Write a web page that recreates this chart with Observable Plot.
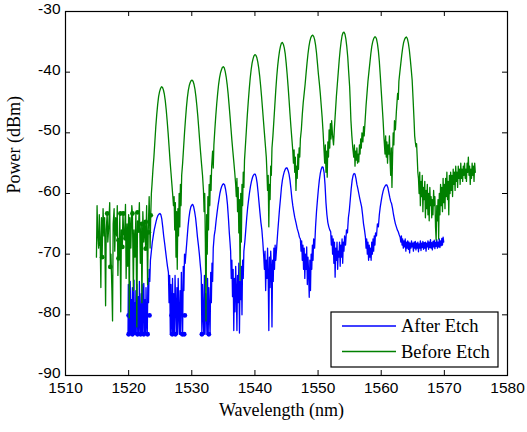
<!DOCTYPE html>
<html><head><meta charset="utf-8">
<script src="https://cdn.jsdelivr.net/npm/d3@7"></script>
<script src="https://cdn.jsdelivr.net/npm/@observablehq/plot@0.6"></script>
<style>body{margin:0;background:#fff}</style>
</head><body><div id="chart"></div>
<script>
const xTicks = [1510,1520,1530,1540,1550,1560,1570,1580];
const yTicks = [-90,-80,-70,-60,-50,-40,-30];
const seriesNames = ["After Etch","Before Etch"];
const seriesColors = ["#0000ff","#008000"];
const xLabel = "Wavelength (nm)";
const yLabel = "Power (dBm)";

// After Etch: [wavelength nm, power dBm]
const afterEtch = [
[1519.9,-83.2],[1519.95,-75.0],[1520.0,-80.3],[1520.05,-83.2],[1520.1,-76.5],[1520.2,-83.2],[1520.25,-74.5],[1520.3,-79.0],[1520.35,-83.2],[1520.45,-77.5],[1520.5,-83.2],[1520.6,-75.5],[1520.7,-83.2],[1520.75,-80.3],[1520.85,-74.3],[1520.9,-83.2],[1521.0,-78.0],[1521.05,-83.2],[1521.15,-76.0],[1521.2,-83.2],[1521.3,-75.0],[1521.4,-81.0],[1521.45,-83.2],[1521.55,-77.0],[1521.65,-83.2],[1521.7,-74.5],[1521.8,-80.3],[1521.9,-83.2],[1522.0,-76.5],[1522.05,-83.2],[1522.15,-75.0],[1522.25,-83.2],[1522.3,-78.5],[1522.4,-74.8],[1522.5,-83.2],[1522.6,-77.5],[1522.7,-83.2],[1522.75,-75.5],[1522.85,-80.3],[1522.95,-83.2],[1523.05,-74.0],[1523.15,-78.0],[1523.25,-72.5],[1523.35,-74.5],
[1523.45,-71.0],[1523.6,-69.5],[1523.75,-68.0],[1523.9,-67.0],[1524.05,-66.0],[1524.2,-65.3],[1524.35,-64.6],[1524.5,-64.0],[1524.65,-63.6],[1524.8,-63.4],[1524.95,-63.3],[1525.1,-63.5],[1525.25,-64.2],[1525.4,-65.5],[1525.55,-67.0],[1525.7,-68.2],[1525.85,-69.5],[1526.0,-70.8],[1526.15,-72.0],[1526.3,-73.0],
[1526.4,-78.0],[1526.5,-73.5],[1526.6,-83.2],[1526.7,-75.0],[1526.75,-80.1],[1526.85,-83.2],[1526.95,-74.0],[1527.05,-83.2],[1527.15,-76.5],[1527.25,-83.2],[1527.35,-73.5],[1527.45,-79.0],[1527.55,-83.2],[1527.65,-75.5],[1527.75,-83.2],[1527.85,-74.0],[1527.95,-80.1],[1528.05,-83.2],[1528.15,-76.0],[1528.25,-83.2],[1528.35,-73.0],[1528.45,-78.5],[1528.55,-83.2],[1528.65,-72.0],[1528.75,-76.0],[1528.85,-70.0],
[1528.95,-71.5],[1529.1,-69.5],[1529.25,-67.5],[1529.4,-65.5],[1529.55,-64.0],[1529.7,-62.9],[1529.85,-62.2],[1530.0,-61.9],[1530.15,-61.8],[1530.3,-62.2],[1530.45,-63.0],[1530.6,-64.0],[1530.75,-65.5],[1530.9,-67.2],[1531.05,-68.5],[1531.2,-70.0],[1531.35,-71.8],[1531.5,-73.5],
[1531.6,-83.2],[1531.7,-75.0],[1531.8,-80.1],[1531.9,-83.2],[1532.0,-73.5],[1532.1,-83.2],[1532.2,-76.5],[1532.3,-79.0],[1532.4,-83.2],[1532.5,-74.0],[1532.6,-83.2],[1532.7,-75.5],[1532.8,-80.1],[1532.9,-83.2],[1533.0,-73.0],[1533.1,-78.0],[1533.2,-71.5],[1533.3,-74.5],[1533.4,-69.0],
[1533.55,-67.0],[1533.7,-66.0],[1533.85,-64.5],[1534.0,-63.2],[1534.15,-62.0],[1534.3,-61.0],[1534.45,-60.0],[1534.6,-59.3],[1534.75,-58.8],[1534.9,-58.5],[1535.05,-58.4],[1535.2,-58.6],[1535.35,-59.3],[1535.5,-60.3],[1535.65,-61.8],[1535.8,-64.0],[1535.95,-66.6],[1536.05,-68.0],[1536.15,-69.5],
[1536.25,-74.0],[1536.35,-71.0],[1536.45,-77.0],[1536.55,-72.5],[1536.65,-82.6],[1536.75,-74.0],[1536.85,-79.5],[1536.95,-72.0],[1537.05,-76.0],[1537.15,-82.6],[1537.25,-73.5],[1537.35,-78.0],[1537.45,-71.5],[1537.55,-83.0],[1537.65,-74.5],[1537.75,-77.5],[1537.85,-72.0],[1537.95,-80.0],[1538.05,-71.0],[1538.15,-74.0],[1538.25,-69.5],
[1538.4,-68.0],[1538.55,-66.0],[1538.7,-64.0],[1538.85,-62.3],[1539.0,-61.0],[1539.15,-59.8],[1539.3,-58.8],[1539.45,-58.0],[1539.6,-57.4],[1539.75,-57.0],[1539.9,-56.8],[1540.05,-56.8],[1540.2,-57.3],[1540.35,-58.3],[1540.5,-59.8],[1540.65,-61.5],[1540.8,-63.2],[1540.95,-64.8],[1541.1,-66.0],[1541.25,-68.0],[1541.4,-70.5],
[1541.5,-72.5],[1541.6,-69.5],[1541.7,-76.0],[1541.8,-71.0],[1541.9,-74.0],[1542.0,-69.0],[1542.1,-73.5],[1542.2,-82.6],[1542.3,-70.5],[1542.4,-75.5],[1542.5,-69.5],[1542.6,-72.0],[1542.7,-82.0],[1542.8,-71.0],[1542.9,-74.5],[1543.0,-69.0],[1543.1,-72.5],[1543.2,-68.5],[1543.3,-71.0],[1543.45,-68.8],
[1543.6,-66.5],[1543.75,-64.5],[1543.9,-62.5],[1544.05,-60.8],[1544.2,-59.0],[1544.35,-57.8],[1544.5,-57.0],[1544.65,-56.4],[1544.8,-56.0],[1544.95,-55.8],[1545.1,-55.8],[1545.25,-56.2],[1545.4,-56.8],[1545.55,-57.8],[1545.7,-59.2],[1545.85,-60.8],[1546.0,-62.0],[1546.15,-63.0],[1546.3,-63.9],[1546.5,-64.8],[1546.7,-65.8],[1546.9,-66.5],[1547.05,-67.2],[1547.2,-67.5],
[1547.3,-69.5],[1547.4,-67.8],[1547.5,-71.0],[1547.6,-68.5],[1547.7,-72.5],[1547.8,-69.0],[1547.9,-74.0],[1548.0,-70.0],[1548.1,-72.5],[1548.2,-68.8],[1548.3,-75.0],[1548.4,-70.5],[1548.5,-73.0],[1548.6,-77.1],[1548.7,-71.0],[1548.8,-76.0],[1548.9,-70.0],[1549.0,-72.5],[1549.1,-68.5],[1549.2,-71.0],[1549.3,-67.5],[1549.45,-69.0],[1549.6,-65.5],
[1549.75,-63.0],[1549.9,-61.1],[1550.05,-59.3],[1550.2,-57.8],[1550.35,-56.7],[1550.5,-56.0],[1550.65,-55.6],[1550.8,-55.7],[1550.95,-56.5],[1551.1,-58.5],[1551.25,-61.5],[1551.4,-63.5],[1551.55,-64.8],[1551.7,-65.5],[1551.85,-66.0],[1552.0,-66.3],
[1552.1,-68.5],[1552.2,-67.0],[1552.3,-70.0],[1552.4,-67.5],[1552.5,-71.5],[1552.6,-68.0],[1552.7,-73.8],[1552.8,-69.0],[1552.9,-71.0],[1553.0,-68.0],[1553.1,-72.5],[1553.2,-69.5],[1553.3,-70.5],[1553.4,-68.0],[1553.5,-72.0],[1553.6,-68.5],[1553.7,-70.5],[1553.8,-67.5],[1553.9,-71.5],[1554.0,-68.0],[1554.1,-69.5],[1554.2,-67.0],[1554.35,-68.5],[1554.5,-66.0],[1554.65,-66.5],[1554.8,-64.0],
[1554.95,-62.8],[1555.1,-61.0],[1555.25,-59.2],[1555.4,-57.8],[1555.55,-57.0],[1555.7,-56.7],[1555.85,-56.8],[1556.0,-57.5],[1556.15,-58.5],[1556.3,-59.2],[1556.45,-60.0],[1556.6,-60.8],[1556.75,-61.5],[1556.9,-62.2],[1557.05,-63.5],[1557.2,-65.0],[1557.35,-66.0],
[1557.5,-67.2],[1557.6,-69.0],[1557.7,-67.5],[1557.8,-70.0],[1557.9,-68.0],[1558.0,-71.0],[1558.1,-68.5],[1558.2,-70.5],[1558.3,-69.0],[1558.4,-71.0],[1558.5,-68.0],[1558.6,-70.0],[1558.7,-67.5],[1558.8,-69.5],[1558.9,-67.0],[1559.0,-68.5],[1559.1,-66.5],[1559.25,-67.0],[1559.4,-65.0],
[1559.55,-65.5],[1559.7,-63.5],[1559.85,-62.2],[1560.0,-61.2],[1560.15,-60.3],[1560.3,-59.6],[1560.45,-59.1],[1560.6,-58.8],[1560.75,-58.6],[1560.9,-58.6],[1561.05,-59.0],[1561.2,-59.8],[1561.35,-60.6],[1561.5,-61.3],[1561.65,-61.7],[1561.8,-62.5],[1561.95,-63.5],[1562.1,-64.3],[1562.25,-65.0],[1562.4,-65.5],[1562.55,-66.0],[1562.7,-66.3],[1562.85,-66.8],[1563.0,-67.2],
[1563.1,-68.0],[1563.2,-67.0],[1563.3,-68.5],[1563.4,-67.5],[1563.5,-69.0],[1563.6,-67.8],[1563.7,-68.8],[1563.8,-67.5],[1563.9,-69.5],[1564.0,-68.0],[1564.1,-69.0],[1564.2,-67.8],[1564.3,-69.2],[1564.4,-68.0],[1564.5,-69.8],[1564.6,-68.2],[1564.7,-69.0],[1564.8,-67.8],[1564.9,-68.8],[1565.0,-68.2],[1565.1,-69.5],[1565.2,-68.0],[1565.3,-69.0],[1565.4,-67.9],[1565.5,-69.3],[1565.6,-68.2],[1565.7,-69.0],[1565.8,-68.0],[1565.9,-69.6],[1566.0,-68.3],[1566.1,-69.0],[1566.2,-67.8],[1566.3,-69.4],[1566.4,-68.2],[1566.5,-68.9],[1566.6,-67.9],[1566.7,-69.2],[1566.8,-68.1],[1566.9,-69.0],[1567.0,-68.0],[1567.1,-69.5],[1567.2,-68.2],[1567.3,-68.8],[1567.4,-67.8],[1567.5,-69.2],[1567.6,-68.0],[1567.7,-68.9],[1567.8,-67.6],[1567.9,-69.0],[1568.0,-68.1],[1568.1,-69.3],[1568.2,-67.9],[1568.3,-68.8],[1568.4,-67.7],[1568.5,-69.1],[1568.6,-68.0],[1568.7,-68.7],[1568.8,-67.6],[1568.9,-69.0],[1569.0,-68.0],[1569.1,-68.8],[1569.2,-67.5],[1569.3,-68.9],[1569.4,-67.8],[1569.5,-68.6],[1569.6,-67.4],[1569.7,-68.5],[1569.8,-67.2],[1569.9,-68.0]
];

// Before Etch: [wavelength nm, power dBm]
const beforeEtch = [
[1514.9,-70.5],[1515.0,-62.0],[1515.1,-66.5],[1515.25,-69.0],[1515.35,-63.5],[1515.5,-68.3],[1515.6,-75.5],[1515.7,-64.0],[1515.8,-70.5],[1515.95,-62.5],[1516.1,-67.0],[1516.2,-64.0],[1516.35,-78.5],[1516.45,-66.0],[1516.6,-63.3],[1516.7,-68.0],[1516.85,-65.5],[1517.0,-61.5],[1517.1,-72.1],[1517.2,-70.0],[1517.35,-76.0],[1517.45,-81.0],[1517.55,-65.0],[1517.7,-62.5],[1517.8,-69.5],[1517.95,-64.0],[1518.1,-67.0],[1518.2,-62.0],[1518.3,-73.5],[1518.4,-67.7],[1518.5,-70.7],[1518.6,-63.3],[1518.75,-79.5],[1518.85,-66.0],[1519.0,-68.8],[1519.1,-63.0],[1519.2,-66.4],[1519.35,-67.4],[1519.5,-61.8],[1519.6,-74.0],[1519.75,-65.0],[1519.85,-72.0],[1520.0,-63.5],[1520.1,-80.5],[1520.2,-64.0],[1520.35,-69.0],[1520.5,-62.0],[1520.6,-63.3],[1520.75,-76.0],[1520.85,-66.0],[1521.0,-70.5],[1521.15,-63.1],[1521.3,-82.0],[1521.4,-64.5],[1521.55,-66.1],[1521.7,-61.5],[1521.85,-71.5],[1522.0,-65.0],[1522.1,-78.0],[1522.25,-63.0],[1522.4,-68.0],[1522.55,-64.7],[1522.7,-69.1],[1522.85,-62.0],[1523.0,-75.0],[1523.1,-66.4],[1523.25,-60.5],[1523.4,-69.0],[1523.5,-63.6],[1523.6,-60.0],
[1523.7,-58.5],[1523.85,-56.0],[1524.0,-54.0],[1524.15,-51.5],[1524.3,-49.0],[1524.45,-47.0],[1524.6,-45.3],[1524.75,-44.0],[1524.9,-43.2],[1525.05,-42.7],[1525.2,-42.4],[1525.35,-42.5],[1525.5,-42.9],[1525.65,-43.6],[1525.8,-44.7],[1525.95,-46.2],[1526.1,-48.0],[1526.25,-50.0],[1526.4,-52.2],[1526.55,-54.5],[1526.7,-56.5],[1526.85,-58.5],[1527.0,-60.5],
[1527.1,-62.0],[1527.2,-60.5],[1527.3,-66.0],[1527.4,-61.5],[1527.5,-70.5],[1527.6,-63.0],[1527.7,-72.5],[1527.8,-62.5],[1527.9,-67.0],[1528.0,-60.0],[1528.1,-65.5],[1528.2,-58.5],[1528.3,-62.0],[1528.4,-57.0],
[1528.55,-55.0],[1528.7,-52.5],[1528.85,-50.0],[1529.0,-47.8],[1529.15,-45.8],[1529.3,-44.2],[1529.45,-43.0],[1529.6,-42.2],[1529.75,-41.7],[1529.9,-41.4],[1530.05,-41.3],[1530.2,-41.5],[1530.35,-42.0],[1530.5,-42.8],[1530.65,-44.0],[1530.8,-45.5],[1530.95,-47.2],[1531.1,-49.2],[1531.25,-51.3],[1531.4,-53.3],[1531.55,-55.2],[1531.7,-57.0],
[1531.85,-59.5],[1531.95,-63.0],[1532.05,-60.0],[1532.15,-68.0],[1532.25,-81.0],[1532.35,-63.5],[1532.45,-70.0],[1532.55,-60.5],[1532.65,-66.0],[1532.75,-58.5],[1532.85,-62.0],[1532.95,-57.0],[1533.05,-59.5],[1533.15,-55.5],
[1533.3,-53.0],[1533.4,-55.8],[1533.5,-52.0],[1533.65,-49.5],[1533.8,-47.2],[1533.95,-45.2],[1534.1,-43.5],[1534.25,-42.0],[1534.4,-40.9],[1534.55,-40.1],[1534.7,-39.6],[1534.85,-39.2],[1535.0,-39.1],[1535.15,-39.3],[1535.3,-39.9],[1535.45,-40.8],[1535.6,-42.0],[1535.75,-43.5],[1535.9,-45.3],[1536.05,-47.2],[1536.2,-49.2],[1536.35,-51.2],[1536.5,-53.0],[1536.65,-54.7],[1536.8,-56.5],[1536.95,-58.5],
[1537.05,-60.5],[1537.15,-57.5],[1537.25,-63.0],[1537.35,-59.0],[1537.45,-66.5],[1537.55,-61.0],[1537.65,-74.3],[1537.75,-60.0],[1537.85,-68.0],[1537.95,-58.5],[1538.05,-62.0],[1538.15,-56.5],[1538.25,-59.0],[1538.35,-54.5],
[1538.5,-52.0],[1538.65,-49.5],[1538.8,-47.0],[1538.95,-44.8],[1539.1,-42.8],[1539.25,-41.0],[1539.4,-39.6],[1539.55,-38.5],[1539.7,-37.8],[1539.85,-37.3],[1540.0,-37.1],[1540.15,-37.2],[1540.3,-37.6],[1540.45,-38.3],[1540.6,-39.3],[1540.75,-40.6],[1540.9,-42.2],[1541.05,-44.0],[1541.2,-46.0],[1541.35,-48.0],[1541.5,-50.0],[1541.65,-52.0],[1541.8,-54.0],
[1541.9,-56.5],[1542.0,-59.5],[1542.1,-57.0],[1542.2,-65.5],[1542.3,-58.5],[1542.4,-61.0],[1542.5,-55.5],[1542.6,-57.0],[1542.7,-52.5],[1542.85,-50.5],
[1543.0,-48.0],[1543.15,-45.5],[1543.3,-43.0],[1543.45,-40.8],[1543.6,-39.0],[1543.75,-37.6],[1543.9,-36.5],[1544.05,-35.7],[1544.2,-35.2],[1544.35,-35.1],[1544.5,-35.4],[1544.65,-36.0],[1544.8,-37.0],[1544.95,-38.5],[1545.1,-40.3],[1545.25,-42.3],[1545.4,-44.5],[1545.55,-46.8],[1545.7,-49.0],[1545.85,-51.0],[1546.0,-53.0],
[1546.1,-55.0],[1546.2,-52.8],[1546.3,-56.5],[1546.4,-54.0],[1546.5,-59.5],[1546.6,-55.5],[1546.7,-57.5],[1546.8,-53.5],[1546.9,-56.0],[1547.0,-52.5],[1547.1,-54.0],[1547.2,-51.0],
[1547.35,-49.5],[1547.5,-47.0],[1547.65,-45.0],[1547.8,-43.5],[1547.95,-42.0],[1548.1,-40.2],[1548.25,-38.5],[1548.4,-37.0],[1548.55,-35.8],[1548.7,-34.9],[1548.85,-34.3],[1549.0,-34.0],[1549.15,-33.9],[1549.3,-34.1],[1549.45,-34.6],[1549.6,-35.5],[1549.75,-36.8],[1549.9,-38.5],[1550.05,-40.3],[1550.2,-41.8],[1550.35,-43.5],[1550.5,-45.5],[1550.65,-47.5],[1550.8,-50.0],[1550.95,-53.0],
[1551.05,-55.0],[1551.15,-52.0],[1551.25,-56.5],[1551.35,-53.0],[1551.45,-57.3],[1551.55,-51.5],[1551.65,-54.0],[1551.75,-49.5],[1551.85,-52.5],[1551.95,-48.5],[1552.05,-51.0],[1552.15,-48.0],[1552.3,-50.5],[1552.45,-52.0],[1552.6,-49.0],
[1552.75,-46.5],[1552.9,-44.0],[1553.05,-42.0],[1553.2,-40.0],[1553.35,-38.0],[1553.5,-36.3],[1553.65,-35.0],[1553.8,-34.0],[1553.95,-33.5],[1554.1,-33.4],[1554.25,-33.7],[1554.4,-34.5],[1554.55,-35.8],[1554.7,-37.5],[1554.85,-40.0],[1555.0,-42.4],[1555.1,-45.0],[1555.2,-47.9],[1555.35,-50.5],[1555.5,-52.5],[1555.65,-54.0],
[1555.75,-52.0],[1555.85,-55.5],[1555.95,-53.0],[1556.05,-54.5],[1556.15,-52.5],[1556.25,-55.0],[1556.35,-53.5],[1556.45,-54.8],[1556.55,-52.0],[1556.65,-53.5],[1556.75,-51.0],[1556.85,-52.5],[1556.95,-50.0],[1557.1,-51.5],[1557.2,-49.0],
[1557.3,-50.5],[1557.45,-48.0],[1557.6,-45.5],[1557.75,-43.5],[1557.9,-41.5],[1558.05,-40.0],[1558.2,-38.5],[1558.35,-37.0],[1558.5,-35.8],[1558.65,-35.0],[1558.8,-34.5],[1558.95,-34.2],[1559.1,-34.2],[1559.25,-34.5],[1559.4,-35.3],[1559.55,-36.5],[1559.7,-38.2],[1559.85,-40.5],[1560.0,-43.0],[1560.15,-45.5],[1560.3,-48.0],[1560.45,-51.0],[1560.6,-53.5],
[1560.7,-50.5],[1560.8,-54.0],[1560.9,-51.5],[1561.0,-55.0],[1561.1,-52.0],[1561.2,-53.5],[1561.3,-50.5],[1561.4,-54.5],[1561.5,-57.0],[1561.6,-52.5],[1561.7,-59.0],[1561.8,-54.0],[1561.9,-50.0],[1562.0,-52.0],[1562.1,-48.0],
[1562.25,-49.5],[1562.4,-46.5],[1562.5,-45.0],[1562.6,-43.5],[1562.7,-44.5],[1562.8,-41.5],[1562.95,-40.0],[1563.1,-38.6],[1563.25,-37.2],[1563.4,-36.0],[1563.55,-35.1],[1563.7,-34.6],[1563.85,-34.3],[1564.0,-34.2],[1564.15,-34.5],[1564.3,-35.2],[1564.45,-36.3],[1564.6,-37.8],[1564.75,-39.5],[1564.9,-41.3],[1565.05,-44.5],[1565.2,-47.9],[1565.3,-50.5],[1565.4,-51.5],[1565.5,-52.3],[1565.6,-51.8],[1565.7,-54.0],[1565.8,-56.5],
[1565.9,-57.5],[1566.0,-60.0],[1566.1,-56.5],[1566.2,-62.0],[1566.3,-58.0],[1566.4,-60.5],[1566.5,-57.0],[1566.6,-63.0],[1566.7,-59.0],[1566.8,-61.0],[1566.9,-58.0],[1567.0,-64.0],[1567.1,-59.5],[1567.2,-62.5],[1567.3,-58.5],[1567.4,-63.5],[1567.5,-60.0],[1567.6,-64.5],[1567.7,-59.0],[1567.8,-62.0],[1567.9,-60.5],[1568.0,-64.0],[1568.1,-61.0],[1568.2,-63.5],[1568.3,-59.5],[1568.4,-62.0],[1568.5,-60.5],[1568.6,-65.5],[1568.7,-67.7],[1568.8,-62.0],[1568.9,-64.5],[1569.0,-61.0],[1569.1,-67.5],[1569.2,-60.0],[1569.3,-63.5],[1569.4,-58.5],[1569.5,-62.0],[1569.6,-59.0],[1569.7,-63.0],[1569.8,-57.5],[1569.9,-61.5],[1570.0,-58.5],[1570.1,-62.5],[1570.2,-57.5],[1570.3,-60.5],[1570.4,-56.5],[1570.5,-61.0],[1570.6,-58.0],[1570.7,-63.5],[1570.8,-57.0],[1570.9,-60.0],[1571.0,-56.5],[1571.1,-59.5],[1571.2,-57.0],[1571.3,-60.5],[1571.4,-56.0],[1571.5,-58.5],[1571.6,-56.5],[1571.7,-59.5],[1571.8,-55.5],[1571.9,-58.0],[1572.0,-56.5],[1572.1,-59.0],[1572.2,-55.5],[1572.3,-57.5],[1572.4,-56.0],[1572.5,-58.5],[1572.6,-55.0],[1572.7,-57.5],[1572.8,-56.0],[1572.9,-58.0],[1573.0,-55.5],[1573.1,-57.0],[1573.2,-55.0],[1573.3,-57.5],[1573.4,-56.0],[1573.5,-58.0],[1573.6,-55.0],[1573.7,-56.5],[1573.8,-54.0],[1573.9,-57.0],[1574.0,-55.5],[1574.1,-58.5],[1574.2,-56.0],[1574.3,-57.5],[1574.4,-55.0],[1574.5,-57.0],[1574.6,-55.5],[1574.7,-58.0],[1574.8,-55.0],[1574.9,-56.5]
];

// isolated points drawn as markers
const afterEtchDots = [
[1520.0,-83.2],[1520.6,-83.2],[1521.4,-83.2],[1521.9,-83.2],[1522.4,-83.2],[1523.0,-83.2],[1526.9,-83.2],[1527.4,-83.2],[1528.5,-83.2],[1528.8,-83.2],[1531.6,-83.2],[1532.7,-83.2],
[1520.0,-80.1],[1521.6,-80.1],[1523.3,-80.1],[1526.8,-80.1],[1528.9,-80.1],[1532.2,-80.1]
];
const beforeEtchDots = [
[1516.6,-63.3],[1515.5,-68.3],[1515.8,-70.5],[1517.1,-72.1],[1518.4,-67.7],[1518.4,-70.7],[1518.7,-63.3],[1519.2,-63.3],[1519.2,-66.4],[1519.5,-67.4],[1519.0,-68.8],[1520.6,-63.3],[1521.4,-63.1],[1521.6,-66.1],[1522.1,-65.0],[1522.7,-64.7],[1523.2,-66.4],[1522.7,-69.1],[1523.5,-63.6]
];

const W = 527, H = 432, mt = 11, mb = 57, ml = 65, mr = 20;
const fh = H - mt - mb, fw = W - ml - mr, tk = 5;
const sans = "Liberation Sans, Arial, sans-serif";
const serif = "Liberation Serif, Times New Roman, serif";
const px = d => d[0], py = d => d[1];

const chart = Plot.plot({
  width: W, height: H,
  marginTop: mt, marginBottom: mb, marginLeft: ml, marginRight: mr,
  style: {background: "white", fontFamily: sans, fontSize: "15.5px", color: "black"},
  x: {domain: [1510, 1580], axis: null},
  y: {domain: [-90, -30], axis: null},
  marks: [
    Plot.line(afterEtch, {x: px, y: py, stroke: seriesColors[0], strokeWidth: 1.3}),
    Plot.dot(afterEtchDots, {x: px, y: py, r: 2.4, fill: seriesColors[0], stroke: null}),
    Plot.line(beforeEtch, {x: px, y: py, stroke: seriesColors[1], strokeWidth: 1.3}),
    Plot.dot(beforeEtchDots, {x: px, y: py, r: 2.4, fill: seriesColors[1], stroke: null}),
    Plot.tickX(xTicks, {x: d => d, insetTop: fh - tk, stroke: "black"}),
    Plot.tickX(xTicks, {x: d => d, insetBottom: fh - tk, stroke: "black"}),
    Plot.tickY(yTicks, {y: d => d, insetRight: fw - tk, stroke: "black"}),
    Plot.tickY(yTicks, {y: d => d, insetLeft: fw - tk, stroke: "black"}),
    Plot.frame({stroke: "black", strokeWidth: 1.2}),
    Plot.text(xTicks, {x: d => d, text: d => String(d), frameAnchor: "bottom", dy: 17, fontFamily: sans, fontSize: 15.5, fill: "black"}),
    Plot.text(yTicks, {y: d => d, text: d => String(d), frameAnchor: "left", dx: -5, dy: -2.5, textAnchor: "end", fontFamily: sans, fontSize: 15.5, fill: "black"}),
    Plot.text([xLabel], {text: d => d, frameAnchor: "bottom", dx: -5, dy: 40, fontFamily: serif, fontSize: 18, fill: "black"}),
    Plot.text([yLabel], {text: d => d, frameAnchor: "left", dx: -51, rotate: -90, fontFamily: serif, fontSize: 18, fill: "black"})
  ]
});

// legend box (bottom-right, inside axes)
const svg = d3.select(chart);
const lg = svg.append("g").attr("transform", "translate(331,312)");
lg.append("rect").attr("width", 167).attr("height", 55).attr("fill", "white").attr("stroke", "black").attr("stroke-width", 1.2);
seriesNames.forEach((name, i) => {
  const yy = 14 + i * 25.5;
  lg.append("line").attr("x1", 11).attr("x2", 65).attr("y1", yy).attr("y2", yy)
    .attr("stroke", seriesColors[i]).attr("stroke-width", 1.3);
  lg.append("text").attr("x", 70).attr("y", yy).attr("dy", "0.34em")
    .attr("text-anchor", "start")
    .attr("font-family", serif).attr("font-size", 18.5).attr("fill", "black").text(name);
});

document.getElementById("chart").appendChild(chart);
</script>
</body></html>
